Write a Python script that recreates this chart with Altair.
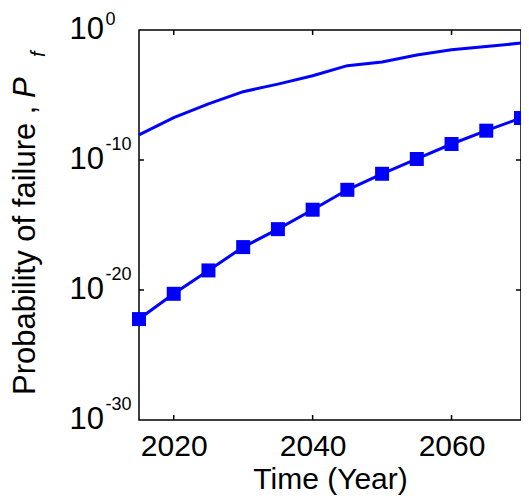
import altair as alt
import pandas as pd

# ---------------- data ----------------
years = [2015, 2020, 2025, 2030, 2035, 2040, 2045, 2050, 2055, 2060, 2065, 2070]
pf_upper = [8.7e-9, 1.8e-7, 2.1e-6, 1.8e-5, 6.9e-5, 3.0e-4, 1.8e-3, 3.4e-3,
            1.2e-2, 3.0e-2, 5.4e-2, 9.8e-2]
pf_lower = [5.8e-23, 5.1e-21, 3.2e-19, 2.0e-17, 4.8e-16, 1.5e-14, 5.1e-13,
            8.7e-12, 1.2e-10, 1.7e-9, 1.8e-8, 1.7e-7]

x_tick_years = [2020, 2040, 2060]
y_tick_values = [1.0, 1e-10, 1e-20, 1e-30]
y_tick_exponents = ["0", "-10", "-20", "-30"]
y_inner_tick_values = [1e-10, 1e-20]

x_title = "Time (Year)"
y_title_parts = ["Probability of failure , ", "P", "f"]

# ---------------- styling ----------------
FONT = "Liberation Sans"
BLUE = "#0000ff"
PAD_L, PAD_T = 131, 22
W, H = 382, 390

df_upper = pd.DataFrame({"year": years, "pf": pf_upper})
df_lower = pd.DataFrame({"year": years, "pf": pf_lower})
df_xt = pd.DataFrame({"year": x_tick_years})
df_yt = pd.DataFrame({"v": y_inner_tick_values})
df_ylab = pd.DataFrame({"v": y_tick_values, "e": y_tick_exponents})

xscale = alt.Scale(domain=[2015, 2070], nice=False, zero=False)
yscale = alt.Scale(type="log", domain=[1e-30, 1], nice=False)

x_axis = alt.Axis(
    values=x_tick_years, format="d", grid=False, ticks=False, tickSize=0,
    domain=False, labelFont=FONT, labelFontSize=30, labelColor="black",
    labelBaseline="alphabetic", labelPadding=35, labelFlush=False,
    title=x_title, titleFont=FONT, titleFontSize=30, titleFontWeight="normal",
    titleColor="black", titleBaseline="alphabetic", titleAlign="center",
    titleX=W / 2, titleY=68,
)

X = alt.X("year:Q", scale=xscale, axis=x_axis)
Y = alt.Y("pf:Q", scale=yscale, axis=None)

upper = alt.Chart(df_upper).mark_line(color=BLUE, strokeWidth=3).encode(x=X, y=Y)
lower_line = alt.Chart(df_lower).mark_line(color=BLUE, strokeWidth=3).encode(x=X, y=Y)
lower_pts = alt.Chart(df_lower).mark_square(
    color=BLUE, size=196, opacity=1, filled=True
).encode(x=X, y=Y)

# inward ticks
tick_style = dict(color="black", strokeWidth=1.5)
xt_top = alt.Chart(df_xt).mark_rule(**tick_style).encode(
    x=X, y=alt.value(0), y2=alt.value(5))
xt_bot = alt.Chart(df_xt).mark_rule(**tick_style).encode(
    x=X, y=alt.value(H), y2=alt.value(H - 5))
Yt = alt.Y("v:Q", scale=yscale, axis=None)
yt_left = alt.Chart(df_yt).mark_rule(**tick_style).encode(
    y=Yt, x=alt.value(0), x2=alt.value(5))
yt_right = alt.Chart(df_yt).mark_rule(**tick_style).encode(
    y=Yt, x=alt.value(W), x2=alt.value(W - 5))

# y tick labels: "10" with superscript exponent
ylab_base = alt.Chart(df_ylab).mark_text(
    text="10", align="right", baseline="alphabetic", dy=9,
    font=FONT, fontSize=31, color="black"
).encode(y=Yt, x=alt.value(-35))
exp_style = dict(align="left", baseline="alphabetic", font=FONT, fontSize=18,
                 color="black")
ylab_exp_top = alt.Chart(df_ylab.iloc[:1]).mark_text(dy=-5.5, **exp_style).encode(
    y=Yt, x=alt.value(-33.5), text="e:N")
ylab_exp = alt.Chart(df_ylab.iloc[1:]).mark_text(dy=-10, **exp_style).encode(
    y=Yt, x=alt.value(-33.5), text="e:N")

# y title pieces (rotated)
t_main = alt.Chart(pd.DataFrame({"t": [y_title_parts[0]]})).mark_text(
    angle=270, align="left", baseline="alphabetic", font=FONT, fontSize=31,
    color="black"
).encode(text="t:N", x=alt.value(-104), y=alt.value(365))
t_p = alt.Chart(pd.DataFrame({"t": [y_title_parts[1]]})).mark_text(
    angle=270, align="left", baseline="alphabetic", font=FONT, fontSize=31,
    fontStyle="italic", color="black"
).encode(text="t:N", x=alt.value(-104), y=alt.value(68))
t_f = alt.Chart(pd.DataFrame({"t": [y_title_parts[2]]})).mark_text(
    angle=270, align="left", baseline="alphabetic", font=FONT, fontSize=20,
    fontStyle="italic", color="black"
).encode(text="t:N", x=alt.value(-94), y=alt.value(27))

chart = alt.layer(
    upper, lower_line, lower_pts, xt_top, xt_bot, yt_left, yt_right,
    ylab_base, ylab_exp_top, ylab_exp, t_main, t_p, t_f
).properties(
    width=W, height=H,
    padding={"left": PAD_L, "top": PAD_T, "right": 0, "bottom": 75},
    autosize=alt.AutoSizeParams(type="none"),
).configure_view(
    stroke="black", strokeWidth=1.5
)

chart.save("out.html", embed_options={"renderer": "svg", "actions": False})
